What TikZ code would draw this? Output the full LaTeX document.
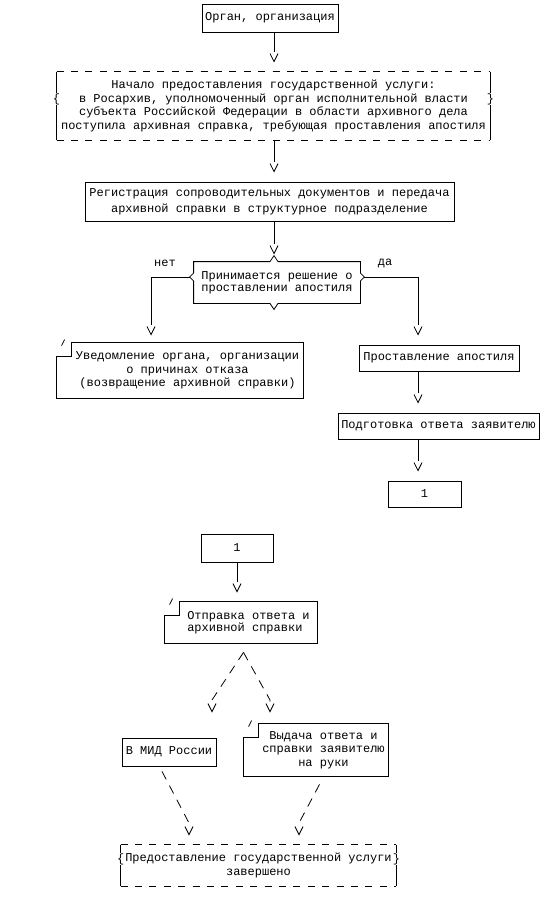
\documentclass[tikz,border=0pt]{standalone}
\usepackage{fontspec}
\newfontfamily\asciifont{Liberation Mono}
\usetikzlibrary{arrows.meta,calc,positioning}

% open V tip with a small gap before the line
\pgfdeclarearrow{
  name=Ascii Vee,
  setup code={
    \pgfarrowssettipend{0pt}
    \pgfarrowssetlineend{-10pt}
    \pgfarrowssetbackend{-8pt}
    \pgfarrowshullpoint{0pt}{0pt}
    \pgfarrowshullpoint{-8pt}{4pt}
    \pgfarrowshullpoint{-8pt}{-4pt}
  },
  drawing code={
    \pgfsetdash{}{0pt}
    \pgfpathmoveto{\pgfpoint{-8pt}{4pt}}
    \pgfpathlineto{\pgfpointorigin}
    \pgfpathlineto{\pgfpoint{-8pt}{-4pt}}
    \pgfusepathqstroke
  }
}

\begin{document}
\begin{tikzpicture}[
  x=1pt,y=-1pt,
  >={Ascii Vee},
  line width=.8pt,
  every node/.style={font=\asciifont\fontsize{12}{13.5}\selectfont},
  plainbox/.style={draw,inner sep=0pt,align=center},
  openbox/.style={inner sep=0pt,align=center},
  brace/.style={fill=white,inner sep=.5pt},
  flow/.style={->,shorten >=10pt},
  dashflow/.style={flow,dash pattern=on 9pt off 7pt}
]
\useasboundingbox (0,0) rectangle (559,898);
\coordinate (spine) at (274,0);

% first sheet
\node[plainbox,minimum width=136pt,minimum height=28pt] (org) at (270,18)
  {Орган, организация};
\node[openbox,minimum width=433pt,minimum height=68pt] (start) at (273.5,106)
  {Начало предоставления государственной услуги:\\
   в Росархив, уполномоченный орган исполнительной власти\\
   субъекта Российской Федерации в области архивного дела\\
   поступила архивная справка, требующая проставления апостиля};
\node[plainbox,minimum width=369pt,minimum height=39pt,
  font=\asciifont\fontsize{12}{16}\selectfont] (reg) at (269.5,201.5)
  {Регистрация сопроводительных документов и передача\\
   архивной справки в структурное подразделение};
\node[openbox,minimum width=166pt,minimum height=41pt,
  font=\asciifont\fontsize{12}{12}\selectfont] (decide) at (277,282.5)
  {Принимается решение о\\проставлении апостиля};
\node (no) at (165,263) {нет};
\node (yes) at (385,263) {да};
\node[openbox,minimum width=231pt,minimum height=55pt] (notice) at (187.5,370.5)
  {Уведомление органа, организации\\о причинах отказа\\(возвращение архивной справки)};
\node[plainbox,minimum width=160pt,minimum height=26pt] (stamp) at (439,358)
  {Проставление апостиля};
\node[plainbox,minimum width=201pt,minimum height=26pt] (prep) at (438.5,426)
  {Подготовка ответа заявителю};
\node[plainbox,minimum width=73pt,minimum height=26pt] (onea) at (424.5,494) {1};

% second sheet
\node[plainbox,minimum width=72pt,minimum height=28pt] (onb) at (237,548) {1};
\node[openbox,align=left,minimum width=137pt,minimum height=41pt,
  font=\asciifont\fontsize{12}{12.5}\selectfont] (send) at (248.5,622.5)
  {Отправка ответа и\\архивной справки};
\node[plainbox,minimum width=94pt,minimum height=28pt] (mfa) at (169,752)
  {В МИД России};
\node[openbox,minimum width=129pt,minimum height=52pt] (handout) at (323.5,750)
  {Выдача ответа и\\справки заявителю\\на руки};
\node[openbox,minimum width=275pt,minimum height=41pt] (done) at (258.5,865.5)
  {Предоставление государственной услуги\\завершено};

% dashed terminal frames
\foreach \b in {start,done}{
  \draw (\b.north west) -- (\b.south west) (\b.north east) -- (\b.south east);
  \draw[dash pattern=on 7pt off 7.4pt] (\b.north west) -- (\b.north east)
    (\b.south west) -- (\b.south east);
}
\node[brace] at ($(start.west)+(0,-7)$) {\{};
\node[brace] at ($(start.east)+(0,-7)$) {\}};
\node[brace] at ($(done.west)+(0,-6.5)$) {\{};
\node[brace] at ($(done.east)+(0,-6.5)$) {\}};

% notched frames
\foreach \b in {notice,send,handout}{
  \draw (\b.north west) -- (\b.north east) -- (\b.south east)
    -- ($(\b.south west)+(-15,0)$) -- ($(\b.north west)+(-15,14)$)
    -- ($(\b.north west)+(0,14)$) -- cycle;
  \draw ($(\b.north west)+(-10,3)$) -- ($(\b.north west)+(-7,-3)$);
}

% decision frame
\draw (decide.north west) -- ($(decide.north -| spine)+(-4,0)$) -- ++(4,-6) -- ++(4,6)
  -- (decide.north east) -- ($(decide.east)+(0,-9.5)$) -- ++(4,4) -- ++(-4,4)
  -- (decide.south east) -- ($(decide.south -| spine)+(4,0)$) -- ++(-4,6) -- ++(-4,-6)
  -- (decide.south west) -- ($(decide.west)+(0,-1.5)$) -- ++(-4,-4) -- ++(4,-4) -- cycle;
\coordinate (lt) at ($(decide.west)+(-4,-5.5)$);
\coordinate (rt) at ($(decide.east)+(4,-5.5)$);
\coordinate (noturn) at (151,277);
\coordinate (yesturn) at (418,277);

% connectors
\draw[flow] (org.south -| spine) -- (start.north -| spine);
\draw[flow] (start.south -| spine) -- (reg.north -| spine);
\draw[flow,shorten >=8pt] (reg.south -| spine) -- (decide.north -| spine);
\draw[flow,shorten >=8pt] (lt) -- (noturn) -- (noturn |- notice.north);
\draw[flow] (rt) -- (yesturn) -- (yesturn |- stamp.north);
\draw[flow] (stamp.south -| yesturn) -- (prep.north -| yesturn);
\draw[flow] (prep.south -| yesturn) -- (onea.north -| yesturn);

\draw[flow] (onb.south) -- (onb.south |- send.north);
\coordinate (split) at ($(send.south)+(-5,9)$);
\coordinate (lbend) at (212,700);
\coordinate (rbend) at (270,700);
\draw[dashflow,shorten >=26pt] (split) -- (lbend) -- (lbend |- mfa.north);
\draw[dashflow,shorten >=12pt] (split) -- (rbend) -- (rbend |- handout.north);
\coordinate (lbend2) at (189,823);
\coordinate (rbend2) at (299,823);
\draw[dashflow] ($(mfa.south)+(-7,5)$) -- (lbend2) -- (lbend2 |- done.north);
\draw[dashflow] ($(handout.south)+(-4,8)$) -- (rbend2) -- (rbend2 |- done.north);
\end{tikzpicture}
\end{document}
